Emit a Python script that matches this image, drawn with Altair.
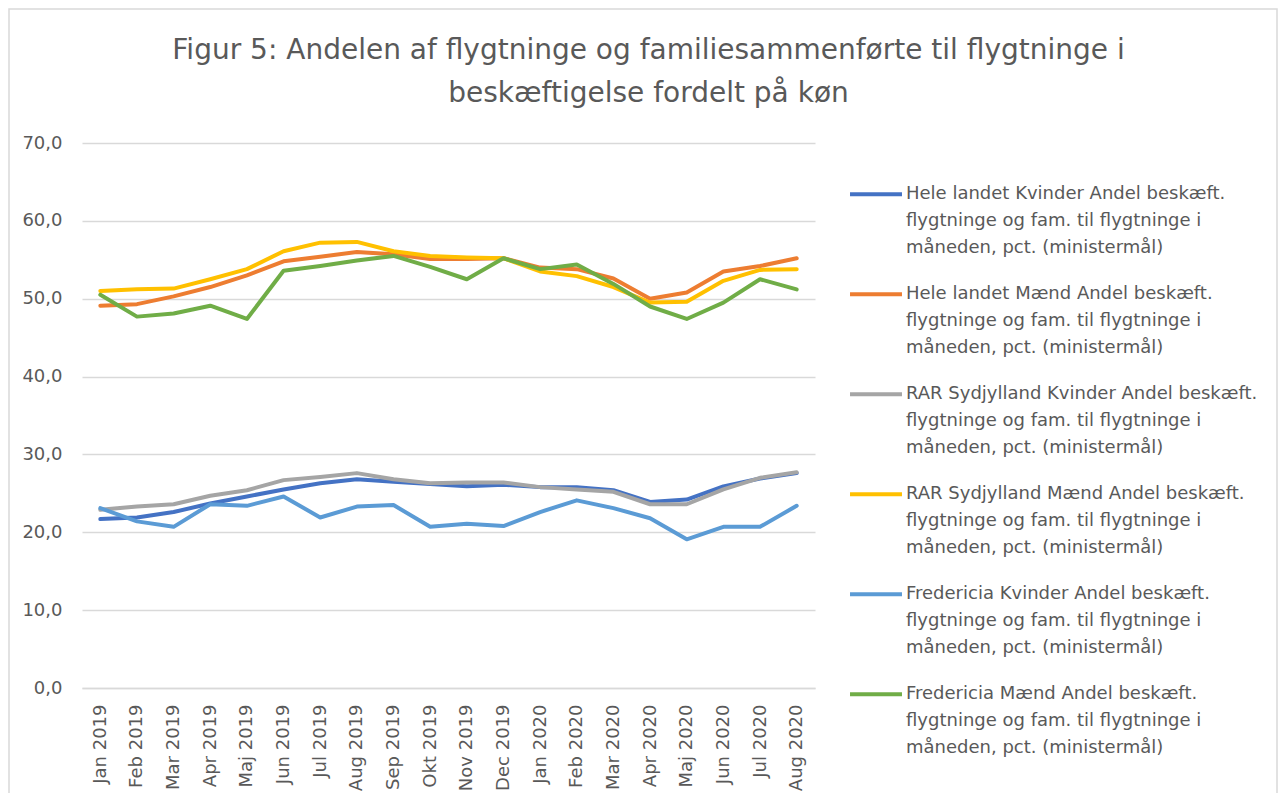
import altair as alt
import pandas as pd

months = ["Jan 2019", "Feb 2019", "Mar 2019", "Apr 2019", "Maj 2019", "Jun 2019",
          "Jul 2019", "Aug 2019", "Sep 2019", "Okt 2019", "Nov 2019", "Dec 2019",
          "Jan 2020", "Feb 2020", "Mar 2020", "Apr 2020", "Maj 2020", "Jun 2020",
          "Jul 2020", "Aug 2020"]

suffix = " Andel beskæft.|flygtninge og fam. til flygtninge i|måneden, pct. (ministermål)"
series_names = [
    "Hele landet Kvinder" + suffix,
    "Hele landet Mænd" + suffix,
    "RAR Sydjylland Kvinder" + suffix,
    "RAR Sydjylland Mænd" + suffix,
    "Fredericia Kvinder" + suffix,
    "Fredericia Mænd" + suffix,
]
series_colors = ["#4472C4", "#ED7D31", "#A5A5A5", "#FFC000", "#5B9BD5", "#70AD47"]

hele_kvinder = [21.7, 21.9, 22.6, 23.7, 24.6, 25.5, 26.3, 26.8, 26.5, 26.2, 25.9, 26.1, 25.8, 25.8, 25.4, 23.9, 24.2, 25.9, 26.9, 27.6]
hele_maend = [49.1, 49.3, 50.3, 51.5, 53.0, 54.8, 55.4, 56.0, 55.7, 55.1, 55.1, 55.2, 54.0, 53.8, 52.6, 50.0, 50.8, 53.5, 54.2, 55.2]
rar_kvinder = [22.9, 23.3, 23.6, 24.7, 25.4, 26.7, 27.1, 27.6, 26.8, 26.3, 26.4, 26.4, 25.8, 25.5, 25.2, 23.6, 23.6, 25.5, 27.0, 27.7]
rar_maend = [51.0, 51.2, 51.3, 52.5, 53.8, 56.1, 57.2, 57.3, 56.1, 55.5, 55.3, 55.2, 53.5, 52.9, 51.5, 49.5, 49.6, 52.3, 53.7, 53.8]
fred_kvinder = [23.1, 21.4, 20.7, 23.6, 23.4, 24.6, 21.9, 23.3, 23.5, 20.7, 21.1, 20.8, 22.6, 24.1, 23.1, 21.8, 19.1, 20.7, 20.7, 23.4]
fred_maend = [50.5, 47.7, 48.1, 49.1, 47.4, 53.6, 54.2, 54.9, 55.5, 54.1, 52.5, 55.2, 53.8, 54.4, 51.9, 49.0, 47.4, 49.5, 52.5, 51.2]

title_lines = ["Figur 5: Andelen af flygtninge og familiesammenførte til flygtninge i",
               "beskæftigelse fordelt på køn"]

all_values = [hele_kvinder, hele_maend, rar_kvinder, rar_maend, fred_kvinder, fred_maend]

rows = []
for si, (name, vals) in enumerate(zip(series_names, all_values)):
    for mi, (m, v) in enumerate(zip(months, vals)):
        rows.append({"serie": name, "order": si, "maaned": m, "idx": mi, "vaerdi": v})
df = pd.DataFrame(rows)

FONT = "DejaVu Sans"
GREY = "#595959"

lines = alt.Chart(df).mark_line(strokeWidth=4, strokeCap="round", strokeJoin="round").encode(
    x=alt.X("maaned:N", sort=months, scale=alt.Scale(type="point", padding=0.5),
            axis=alt.Axis(title=None, labelAngle=-90, labelFontSize=18, labelColor=GREY,
                          labelFont=FONT, labelPadding=16, ticks=False, domain=True,
                          domainColor="#D9D9D9", domainWidth=1.5, grid=False,
                          labelAlign="right", labelBaseline="middle")),
    y=alt.Y("vaerdi:Q", scale=alt.Scale(domain=[0, 70]),
            axis=alt.Axis(title=None, values=[0, 10, 20, 30, 40, 50, 60, 70],
                          labelExpr="replace(format(datum.value, '.1f'), '.', ',')",
                          labelFontSize=18, labelColor=GREY, labelFont=FONT,
                          labelPadding=20, ticks=False, domain=False,
                          gridColor="#D9D9D9", gridWidth=1.5)),
    color=alt.Color("serie:N", sort=series_names,
                    scale=alt.Scale(domain=series_names, range=series_colors),
                    legend=alt.Legend(title=None, orient="none", legendX=766, legendY=14,
                                      symbolType="M-1,0.36L1,0.36", symbolStrokeWidth=4,
                                      symbolSize=2700, labelLimit=500,
                                      labelExpr="split(datum.label, '|')",
                                      labelFontSize=18, labelColor=GREY, labelFont=FONT,
                                      labelBaseline="top", labelOffset=2,
                                      rowPadding=0, symbolOffset=0)),
    order=alt.Order("order:Q"),
    detail="serie:N",
)

border = alt.Chart(alt.Data(values=[{}])).mark_rect(
    fill=None, stroke="#D9D9D9", strokeWidth=1.5
).encode(
    x=alt.value(-73), x2=alt.value(1195), y=alt.value(-134), y2=alt.value(700)
)

chart = alt.layer(border, lines).properties(
    width=733,
    height=545,
    padding={"left": 74, "top": 135, "right": 463, "bottom": 105},
    autosize=alt.AutoSizeParams(type="none"),
    title=alt.TitleParams(
        title_lines,
        anchor="middle", frame="group", dx=200, fontSize=28, font=FONT, fontWeight="normal",
        color=GREY, lineHeight=43, offset=-100,
    ),
).configure(
    background="white",
    style={"guide-label": {"lineHeight": 27}},
).configure_view(stroke=None)

chart.save("out.html", embed_options={"renderer": "svg", "actions": False})
